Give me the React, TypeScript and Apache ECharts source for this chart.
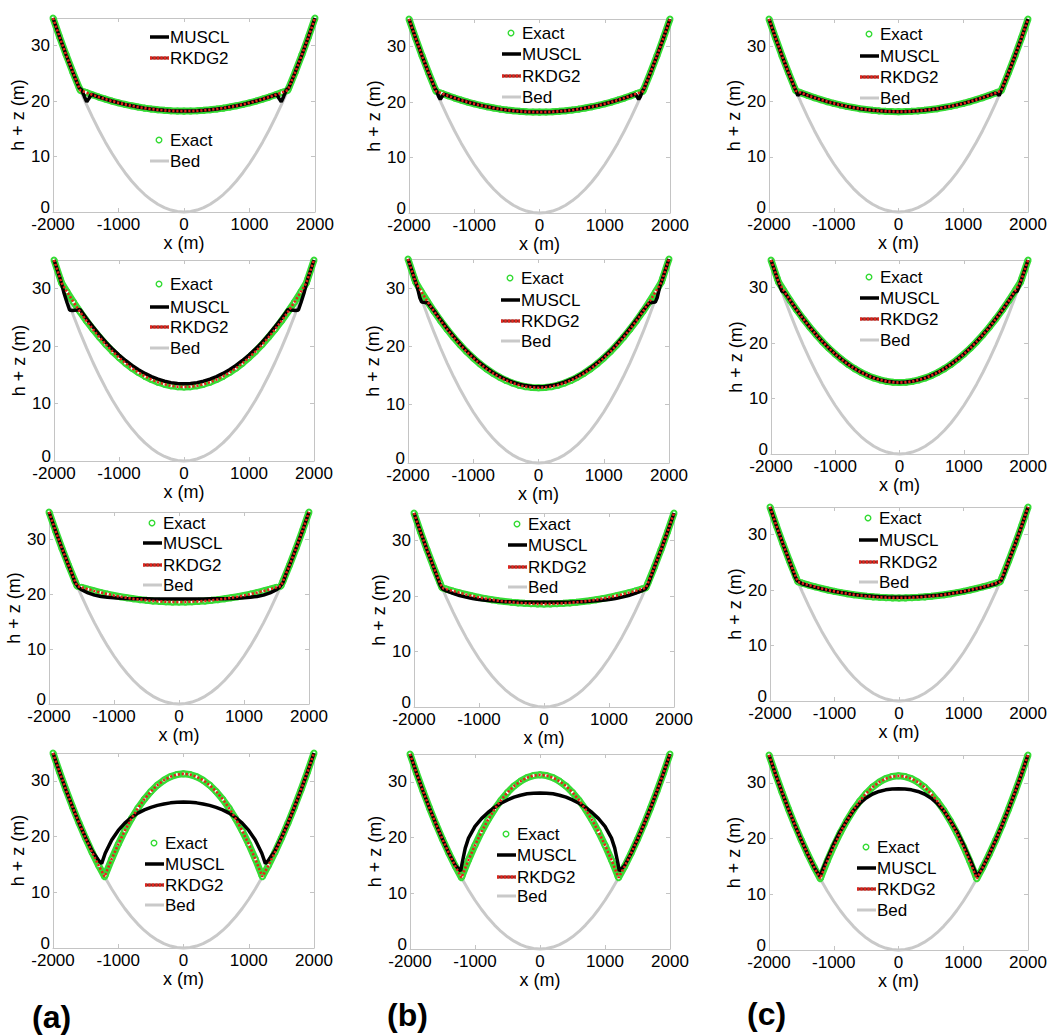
import React, { useEffect, useRef } from "react";
import * as echarts from "echarts";

type P = [number, number];

// ---------- axis values ----------
const xTickValues = [-2000, -1000, 0, 1000, 2000];
const yTickValues = [0, 10, 20, 30];
const yTop = 35;

const seriesNames = ["Exact", "MUSCL", "RKDG2", "Bed"];
const panelLetters = ["(a)", "(b)", "(c)"];

// ---------- data (x in m, h+z in m) ----------
const bed: P[] = [[-2000,35],[-1900,31.59],[-1800,28.35],[-1700,25.29],[-1600,22.4],[-1500,19.69],[-1400,17.15],[-1300,14.79],[-1200,12.6],[-1100,10.59],[-1000,8.75],[-900,7.09],[-800,5.6],[-700,4.29],[-600,3.15],[-500,2.19],[-400,1.4],[-300,0.79],[-200,0.35],[-100,0.09],[0,0],[100,0.09],[200,0.35],[300,0.79],[400,1.4],[500,2.19],[600,3.15],[700,4.29],[800,5.6],[900,7.09],[1000,8.75],[1100,10.59],[1200,12.6],[1300,14.79],[1400,17.15],[1500,19.69],[1600,22.4],[1700,25.29],[1800,28.35],[1900,31.59],[2000,35]];

const exactT1: P[] = [[-2000,35],[-1900,31.59],[-1800,28.35],[-1700,25.29],[-1600,22.4],[-1585,21.98],[-1500,21.58],[-1400,21.15],[-1300,20.74],[-1200,20.37],[-1100,20.02],[-1000,19.7],[-900,19.42],[-800,19.16],[-700,18.94],[-600,18.74],[-500,18.58],[-400,18.44],[-300,18.34],[-200,18.26],[-100,18.22],[0,18.2],[100,18.22],[200,18.26],[300,18.34],[400,18.44],[500,18.58],[600,18.74],[700,18.94],[800,19.16],[900,19.42],[1000,19.7],[1100,20.02],[1200,20.37],[1300,20.74],[1400,21.15],[1500,21.58],[1585,21.98],[1600,22.4],[1700,25.29],[1800,28.35],[1900,31.59],[2000,35]];

const exactT2: P[] = [[-2000,35],[-1900,31.59],[-1882,31.0],[-1800,29.46],[-1700,27.67],[-1600,25.98],[-1500,24.4],[-1400,22.92],[-1300,21.54],[-1200,20.26],[-1100,19.08],[-1000,18.01],[-900,17.04],[-800,16.17],[-700,15.4],[-600,14.74],[-500,14.18],[-400,13.72],[-300,13.36],[-200,13.1],[-100,12.95],[0,12.9],[100,12.95],[200,13.1],[300,13.36],[400,13.72],[500,14.18],[600,14.74],[700,15.4],[800,16.17],[900,17.04],[1000,18.01],[1100,19.08],[1200,20.26],[1300,21.54],[1400,22.92],[1500,24.4],[1600,25.98],[1700,27.67],[1800,29.46],[1882,31.0],[1900,31.59],[2000,35]];

const exactT3: P[] = [[-2000,35],[-1900,31.59],[-1800,28.35],[-1700,25.29],[-1600,22.4],[-1568,21.51],[-1500,21.26],[-1400,20.92],[-1300,20.6],[-1200,20.3],[-1100,20.03],[-1000,19.78],[-900,19.56],[-800,19.36],[-700,19.18],[-600,19.03],[-500,18.9],[-400,18.79],[-300,18.71],[-200,18.65],[-100,18.61],[0,18.6],[100,18.61],[200,18.65],[300,18.71],[400,18.79],[500,18.9],[600,19.03],[700,19.18],[800,19.36],[900,19.56],[1000,19.78],[1100,20.03],[1200,20.3],[1300,20.6],[1400,20.92],[1500,21.26],[1568,21.51],[1600,22.4],[1700,25.29],[1800,28.35],[1900,31.59],[2000,35]];

const exactT4: P[] = [[-2000,35],[-1900,31.59],[-1800,28.35],[-1700,25.29],[-1600,22.4],[-1500,19.69],[-1400,17.15],[-1300,14.79],[-1209,12.8],[-1200,13.08],[-1100,15.98],[-1000,18.63],[-900,21.03],[-800,23.18],[-700,25.07],[-600,26.71],[-500,28.1],[-400,29.24],[-300,30.12],[-200,30.75],[-100,31.13],[0,31.26],[100,31.13],[200,30.75],[300,30.12],[400,29.24],[500,28.1],[600,26.71],[700,25.07],[800,23.18],[900,21.03],[1000,18.63],[1100,15.98],[1200,13.08],[1209,12.8],[1300,14.79],[1400,17.15],[1500,19.69],[1600,22.4],[1700,25.29],[1800,28.35],[1900,31.59],[2000,35]];

// RKDG2 lies on the exact solution at the resolution of the figure
const rkdg2T1: P[] = exactT1;
const rkdg2T2: P[] = exactT2;
const rkdg2T3: P[] = exactT3;
const rkdg2T4: P[] = exactT4;

const musclA1: P[] = [[-2000,35],[-1900,31.59],[-1800,28.35],[-1700,25.29],[-1600,22.4],[-1560,22.0],[-1520,20.8],[-1485,19.9],[-1450,20.5],[-1420,21.2],[-1400,21.15],[-1300,20.74],[-1200,20.37],[-1100,20.02],[-1000,19.7],[-900,19.42],[-800,19.16],[-700,18.94],[-600,18.74],[-500,18.58],[-400,18.44],[-300,18.34],[-200,18.26],[-100,18.22],[0,18.2],[100,18.22],[200,18.26],[300,18.34],[400,18.44],[500,18.58],[600,18.74],[700,18.94],[800,19.16],[900,19.42],[1000,19.7],[1100,20.02],[1200,20.37],[1300,20.74],[1400,21.15],[1420,21.2],[1450,20.5],[1485,19.9],[1520,20.8],[1560,22.0],[1600,22.4],[1700,25.29],[1800,28.35],[1900,31.59],[2000,35]];

const musclB1: P[] = [[-2000,35],[-1900,31.59],[-1800,28.35],[-1700,25.29],[-1600,22.4],[-1575,22.0],[-1545,21.0],[-1520,20.5],[-1495,21.0],[-1470,21.45],[-1400,21.15],[-1300,20.74],[-1200,20.37],[-1100,20.02],[-1000,19.7],[-900,19.42],[-800,19.16],[-700,18.94],[-600,18.74],[-500,18.58],[-400,18.44],[-300,18.34],[-200,18.26],[-100,18.22],[0,18.2],[100,18.22],[200,18.26],[300,18.34],[400,18.44],[500,18.58],[600,18.74],[700,18.94],[800,19.16],[900,19.42],[1000,19.7],[1100,20.02],[1200,20.37],[1300,20.74],[1400,21.15],[1470,21.45],[1495,21.0],[1520,20.5],[1545,21.0],[1575,22.0],[1600,22.4],[1700,25.29],[1800,28.35],[1900,31.59],[2000,35]];

const musclC1: P[] = [[-2000,35],[-1900,31.59],[-1800,28.35],[-1700,25.29],[-1600,22.4],[-1580,21.95],[-1555,21.1],[-1535,21.4],[-1500,21.58],[-1400,21.15],[-1300,20.74],[-1200,20.37],[-1100,20.02],[-1000,19.7],[-900,19.42],[-800,19.16],[-700,18.94],[-600,18.74],[-500,18.58],[-400,18.44],[-300,18.34],[-200,18.26],[-100,18.22],[0,18.2],[100,18.22],[200,18.26],[300,18.34],[400,18.44],[500,18.58],[600,18.74],[700,18.94],[800,19.16],[900,19.42],[1000,19.7],[1100,20.02],[1200,20.37],[1300,20.74],[1400,21.15],[1500,21.58],[1535,21.4],[1555,21.1],[1580,21.95],[1600,22.4],[1700,25.29],[1800,28.35],[1900,31.59],[2000,35]];

const musclA2: P[] = [[-2000,35],[-1900,31.59],[-1850,29.4],[-1800,27.6],[-1760,26.3],[-1720,26.2],[-1640,26.3],[-1600,26.4],[-1500,24.8],[-1400,23.35],[-1300,21.95],[-1200,20.65],[-1100,19.5],[-1000,18.45],[-900,17.5],[-800,16.65],[-700,15.9],[-600,15.25],[-500,14.7],[-400,14.25],[-300,13.9],[-200,13.65],[-100,13.5],[0,13.45],[100,13.5],[200,13.65],[300,13.9],[400,14.25],[500,14.7],[600,15.25],[700,15.9],[800,16.65],[900,17.5],[1000,18.45],[1100,19.5],[1200,20.65],[1300,21.95],[1400,23.35],[1500,24.8],[1600,26.4],[1640,26.3],[1720,26.2],[1760,26.3],[1800,27.6],[1850,29.4],[1900,31.59],[2000,35]];

const musclB2: P[] = [[-2000,35],[-1900,31.59],[-1860,30.3],[-1820,28.4],[-1790,27.6],[-1740,27.55],[-1700,27.5],[-1600,26.1],[-1500,24.55],[-1400,23.05],[-1300,21.67],[-1200,20.38],[-1100,19.2],[-1000,18.13],[-900,17.16],[-800,16.3],[-700,15.53],[-600,14.88],[-500,14.33],[-400,13.88],[-300,13.53],[-200,13.28],[-100,13.14],[0,13.1],[100,13.14],[200,13.28],[300,13.53],[400,13.88],[500,14.33],[600,14.88],[700,15.53],[800,16.3],[900,17.16],[1000,18.13],[1100,19.2],[1200,20.38],[1300,21.67],[1400,23.05],[1500,24.55],[1600,26.1],[1700,27.5],[1740,27.55],[1790,27.6],[1820,28.4],[1860,30.3],[1900,31.59],[2000,35]];

const musclC2: P[] = [[-2000,35],[-1900,31.59],[-1860,30.3],[-1830,29.4],[-1790,29.2],[-1700,27.67],[-1600,26.0],[-1500,24.42],[-1400,22.94],[-1300,21.56],[-1200,20.28],[-1100,19.1],[-1000,18.03],[-900,17.06],[-800,16.19],[-700,15.42],[-600,14.76],[-500,14.2],[-400,13.74],[-300,13.38],[-200,13.12],[-100,12.97],[0,12.92],[100,12.97],[200,13.12],[300,13.38],[400,13.74],[500,14.2],[600,14.76],[700,15.42],[800,16.19],[900,17.06],[1000,18.03],[1100,19.1],[1200,20.28],[1300,21.56],[1400,22.94],[1500,24.42],[1600,26.0],[1700,27.67],[1790,29.2],[1830,29.4],[1860,30.3],[1900,31.59],[2000,35]];

const musclA3: P[] = [[-2000,35],[-1900,31.59],[-1800,28.35],[-1700,25.29],[-1650,23.8],[-1600,22.2],[-1550,21.3],[-1500,20.85],[-1400,20.25],[-1300,19.85],[-1200,19.6],[-1100,19.45],[-1000,19.35],[-900,19.28],[-800,19.23],[-700,19.2],[-600,19.18],[-500,19.17],[-400,19.16],[-300,19.15],[-200,19.15],[-100,19.15],[0,19.15],[100,19.15],[200,19.15],[300,19.15],[400,19.16],[500,19.17],[600,19.18],[700,19.2],[800,19.23],[900,19.28],[1000,19.35],[1100,19.45],[1200,19.6],[1300,19.85],[1400,20.25],[1500,20.85],[1550,21.3],[1600,22.2],[1650,23.8],[1700,25.29],[1800,28.35],[1900,31.59],[2000,35]];

const musclB3: P[] = [[-2000,35],[-1900,31.59],[-1800,28.35],[-1700,25.29],[-1640,23.4],[-1600,22.1],[-1560,21.3],[-1500,20.95],[-1400,20.5],[-1300,20.12],[-1200,19.82],[-1100,19.58],[-1000,19.4],[-900,19.26],[-800,19.15],[-700,19.07],[-600,19.01],[-500,18.97],[-400,18.94],[-300,18.92],[-200,18.91],[-100,18.9],[0,18.9],[100,18.9],[200,18.91],[300,18.92],[400,18.94],[500,18.97],[600,19.01],[700,19.07],[800,19.15],[900,19.26],[1000,19.4],[1100,19.58],[1200,19.82],[1300,20.12],[1400,20.5],[1500,20.95],[1560,21.3],[1600,22.1],[1640,23.4],[1700,25.29],[1800,28.35],[1900,31.59],[2000,35]];

const musclC3: P[] = [[-2000,35],[-1900,31.59],[-1800,28.35],[-1700,25.29],[-1620,22.7],[-1580,21.7],[-1500,21.15],[-1400,20.82],[-1300,20.52],[-1200,20.25],[-1100,20.0],[-1000,19.77],[-900,19.57],[-800,19.39],[-700,19.23],[-600,19.09],[-500,18.97],[-400,18.88],[-300,18.81],[-200,18.76],[-100,18.73],[0,18.72],[100,18.73],[200,18.76],[300,18.81],[400,18.88],[500,18.97],[600,19.09],[700,19.23],[800,19.39],[900,19.57],[1000,19.77],[1100,20.0],[1200,20.25],[1300,20.52],[1400,20.82],[1500,21.15],[1580,21.7],[1620,22.7],[1700,25.29],[1800,28.35],[1900,31.59],[2000,35]];

const musclA4: P[] = [[-2000,35],[-1900,31.59],[-1800,28.35],[-1700,25.29],[-1600,22.4],[-1500,19.8],[-1400,17.4],[-1300,15.7],[-1255,15.15],[-1200,17.0],[-1100,19.4],[-1000,21.1],[-900,22.4],[-800,23.4],[-700,24.2],[-600,24.8],[-500,25.25],[-400,25.6],[-300,25.85],[-200,26.05],[-100,26.15],[0,26.2],[100,26.15],[200,26.05],[300,25.85],[400,25.6],[500,25.25],[600,24.8],[700,24.2],[800,23.4],[900,22.4],[1000,21.1],[1100,19.4],[1200,17.0],[1255,15.15],[1300,15.7],[1400,17.4],[1500,19.8],[1600,22.4],[1700,25.29],[1800,28.35],[1900,31.59],[2000,35]];

const musclB4: P[] = [[-2000,35],[-1900,31.59],[-1800,28.35],[-1700,25.29],[-1600,22.4],[-1500,19.69],[-1400,17.15],[-1300,14.95],[-1220,14.0],[-1200,15.3],[-1150,18.1],[-1100,19.9],[-1000,22.0],[-900,23.4],[-800,24.5],[-700,25.4],[-600,26.15],[-500,26.75],[-400,27.25],[-300,27.6],[-200,27.85],[-100,27.97],[0,28.0],[100,27.97],[200,27.85],[300,27.6],[400,27.25],[500,26.75],[600,26.15],[700,25.4],[800,24.5],[900,23.4],[1000,22.0],[1100,19.9],[1150,18.1],[1200,15.3],[1220,14.0],[1300,14.95],[1400,17.15],[1500,19.69],[1600,22.4],[1700,25.29],[1800,28.35],[1900,31.59],[2000,35]];

const musclC4: P[] = [[-2000,35],[-1900,31.59],[-1800,28.35],[-1700,25.29],[-1600,22.4],[-1500,19.69],[-1400,17.15],[-1300,14.79],[-1215,13.2],[-1200,13.6],[-1150,15.0],[-1100,16.4],[-1000,19.0],[-900,21.3],[-800,23.2],[-700,25.0],[-600,26.3],[-500,27.3],[-400,28.0],[-300,28.45],[-200,28.75],[-100,28.9],[0,28.95],[100,28.9],[200,28.75],[300,28.45],[400,28.0],[500,27.3],[600,26.3],[700,25.0],[800,23.2],[900,21.3],[1000,19.0],[1100,16.4],[1150,15.0],[1200,13.6],[1215,13.2],[1300,14.79],[1400,17.15],[1500,19.69],[1600,22.4],[1700,25.29],[1800,28.35],[1900,31.59],[2000,35]];

const panelData = [
  { exact: exactT1, muscl: musclA1, rkdg2: rkdg2T1 },
  { exact: exactT1, muscl: musclB1, rkdg2: rkdg2T1 },
  { exact: exactT1, muscl: musclC1, rkdg2: rkdg2T1 },
  { exact: exactT2, muscl: musclA2, rkdg2: rkdg2T2 },
  { exact: exactT2, muscl: musclB2, rkdg2: rkdg2T2 },
  { exact: exactT2, muscl: musclC2, rkdg2: rkdg2T2 },
  { exact: exactT3, muscl: musclA3, rkdg2: rkdg2T3 },
  { exact: exactT3, muscl: musclB3, rkdg2: rkdg2T3 },
  { exact: exactT3, muscl: musclC3, rkdg2: rkdg2T3 },
  { exact: exactT4, muscl: musclA4, rkdg2: rkdg2T4 },
  { exact: exactT4, muscl: musclB4, rkdg2: rkdg2T4 },
  { exact: exactT4, muscl: musclC4, rkdg2: rkdg2T4 },
];

// ---------- layout (pixels) ----------
const FONT = '"Liberation Sans", Arial, Helvetica, sans-serif';
const GREEN = "#36dc36";
const RED = "#e3231c";
const BED = "#c9c9c9";
const AXIS = "#c4c4c4";

const gridBoxes = [
  [53, 18, 262, 194], [409, 19, 261, 194], [769, 19, 259, 193],
  [54, 260, 260, 201], [408, 259, 261, 204], [771, 260, 259, 194],
  [49, 512, 260, 192], [414, 513, 260, 194], [770, 507, 259, 194],
  [53, 753, 261, 195], [410, 754, 260, 195], [769, 755, 259, 195],
];

// legend: text left x, then [name, centre y]
const legendLayout: { x: number; rows: [string, number][] }[] = [
  { x: 170, rows: [["MUSCL", 37], ["RKDG2", 58], ["Exact", 140], ["Bed", 161]] },
  { x: 522, rows: [["Exact", 33], ["MUSCL", 54], ["RKDG2", 76], ["Bed", 97]] },
  { x: 880, rows: [["Exact", 34], ["MUSCL", 56], ["RKDG2", 77], ["Bed", 98]] },
  { x: 170, rows: [["Exact", 284], ["MUSCL", 307], ["RKDG2", 327], ["Bed", 348]] },
  { x: 521, rows: [["Exact", 278], ["MUSCL", 300], ["RKDG2", 321], ["Bed", 341]] },
  { x: 880, rows: [["Exact", 277], ["MUSCL", 298], ["RKDG2", 319], ["Bed", 340]] },
  { x: 163, rows: [["Exact", 523], ["MUSCL", 543], ["RKDG2", 565], ["Bed", 585]] },
  { x: 528, rows: [["Exact", 524], ["MUSCL", 545], ["RKDG2", 567], ["Bed", 587]] },
  { x: 879, rows: [["Exact", 518], ["MUSCL", 540], ["RKDG2", 562], ["Bed", 582]] },
  { x: 165, rows: [["Exact", 843], ["MUSCL", 864], ["RKDG2", 885], ["Bed", 905]] },
  { x: 517, rows: [["Exact", 834], ["MUSCL", 855], ["RKDG2", 877], ["Bed", 896]] },
  { x: 877, rows: [["Exact", 847], ["MUSCL", 868], ["RKDG2", 889], ["Bed", 910]] },
];

const letterPos = [[32, 1017], [387, 1015], [747, 1014]];

function buildOption() {
  const grid: any[] = [];
  const xAxis: any[] = [];
  const yAxis: any[] = [];
  const series: any[] = [];
  const graphic: any[] = [];
  const xMin = xTickValues[0];
  const xMax = xTickValues[xTickValues.length - 1];
  const xStep = xTickValues[1] - xTickValues[0];
  const yMin = yTickValues[0];
  const yStep = yTickValues[1] - yTickValues[0];

  const tick = { show: true, inside: true, length: 4, lineStyle: { color: AXIS, width: 1 } };
  const line = { show: true, onZero: false, lineStyle: { color: AXIS, width: 1 } };

  gridBoxes.forEach((b, i) => {
    grid.push({ left: b[0], top: b[1], width: b[2], height: b[3], containLabel: false });
    xAxis.push({
      type: "value", gridIndex: i, position: "bottom", min: xMin, max: xMax, interval: xStep,
      name: "x (m)", nameLocation: "middle", nameGap: 12,
      nameTextStyle: { fontSize: 18, color: "#000", fontFamily: FONT },
      axisLine: line, axisTick: tick,
      axisLabel: {
        fontSize: 17, color: "#000", margin: 4, fontFamily: FONT, showMinLabel: true, showMaxLabel: true,
        formatter: (v: number) => String(v),
      },
      splitLine: { show: false },
    });
    xAxis.push({
      type: "value", gridIndex: i, position: "top", min: xMin, max: xMax, interval: xStep,
      axisLine: line, axisTick: tick, axisLabel: { show: false }, splitLine: { show: false },
    });
    yAxis.push({
      type: "value", gridIndex: i, position: "left", min: yMin, max: yTop, interval: yStep,
      name: "h + z (m)", nameLocation: "middle", nameGap: 10, nameRotate: 90,
      nameTextStyle: { fontSize: 18, color: "#000", fontFamily: FONT },
      axisLine: line, axisTick: tick,
      axisLabel: {
        fontSize: 17, color: "#000", margin: 3, fontFamily: FONT, showMaxLabel: false,
        formatter: (v: number) => (v === 0 ? "{z|0}" : String(v)),
        rich: { z: { fontSize: 17, color: "#000", fontFamily: FONT, lineHeight: 17, padding: [0, 0, 9, 0] } },
      },
      splitLine: { show: false },
    });
    yAxis.push({
      type: "value", gridIndex: i, position: "right", min: yMin, max: yTop, interval: yStep,
      axisLine: line, axisTick: tick, axisLabel: { show: false }, splitLine: { show: false },
    });

    const d = panelData[i];
    const ax = { xAxisIndex: 2 * i, yAxisIndex: 2 * i, clip: false, silent: true };
    series.push({
      ...ax, type: "line", name: seriesNames[3], data: bed, symbol: "none",
      lineStyle: { color: BED, width: 3 }, z: 2,
    });
    series.push({
      ...ax, type: "line", name: seriesNames[0], data: d.exact, symbol: "emptyCircle", symbolSize: 5,
      itemStyle: { color: GREEN, borderColor: GREEN, borderWidth: 1.2 },
      lineStyle: { color: GREEN, width: 7 }, z: 3,
    });
    series.push({
      ...ax, type: "line", name: seriesNames[1], data: d.muscl, symbol: "none",
      lineStyle: { color: "#000", width: 3.5 }, z: 4,
    });
    series.push({
      ...ax, type: "line", name: seriesNames[2], data: d.rkdg2, symbol: "none",
      lineStyle: { color: RED, width: 2.6, type: [2.2, 1.8] }, z: 5,
    });

    // legend
    const L = legendLayout[i];
    L.rows.forEach(([name, y]) => {
      const x = L.x;
      if (name === "Exact") {
        graphic.push({ type: "circle", z: 100, shape: { cx: x - 11, cy: y, r: 2.8 }, style: { fill: "#fff", stroke: GREEN, lineWidth: 1.4 } });
      } else if (name === "MUSCL") {
        graphic.push({ type: "line", z: 100, shape: { x1: x - 20, y1: y, x2: x - 1, y2: y }, style: { stroke: "#000", lineWidth: 3.5 } });
      } else if (name === "RKDG2") {
        graphic.push({ type: "line", z: 100, shape: { x1: x - 20, y1: y, x2: x - 1, y2: y }, style: { stroke: "#8a2a22", lineWidth: 3 } });
        graphic.push({ type: "line", z: 101, shape: { x1: x - 20, y1: y, x2: x - 1, y2: y }, style: { stroke: RED, lineWidth: 3, lineDash: [2, 1.5] } });
      } else {
        graphic.push({ type: "line", z: 100, shape: { x1: x - 20, y1: y, x2: x - 1, y2: y }, style: { stroke: BED, lineWidth: 3 } });
      }
      graphic.push({
        type: "text", z: 102, x: x, y: y,
        style: { text: name, fill: "#000", font: `17px ${FONT}`, verticalAlign: "middle", textVerticalAlign: "middle" },
      });
    });
  });

  letterPos.forEach((p, k) => {
    graphic.push({
      type: "text", z: 102, x: p[0], y: p[1],
      style: { text: panelLetters[k], fill: "#000", font: `bold 32px ${FONT}`, verticalAlign: "middle", textVerticalAlign: "middle" },
    });
  });

  return {
    animation: false,
    backgroundColor: "#fff",
    textStyle: { fontFamily: FONT },
    grid, xAxis, yAxis, series, graphic,
  };
}

export default function App() {
  const ref = useRef<HTMLDivElement>(null);
  useEffect(() => {
    if (!ref.current) return;
    const chart = echarts.init(ref.current, undefined, { renderer: "svg" });
    chart.setOption(buildOption() as any);
    return () => chart.dispose();
  }, []);
  return (
    <div
      ref={ref}
      style={{ position: "absolute", left: 0, top: 0, width: 1050, height: 1035, background: "#fff" }}
    />
  );
}
